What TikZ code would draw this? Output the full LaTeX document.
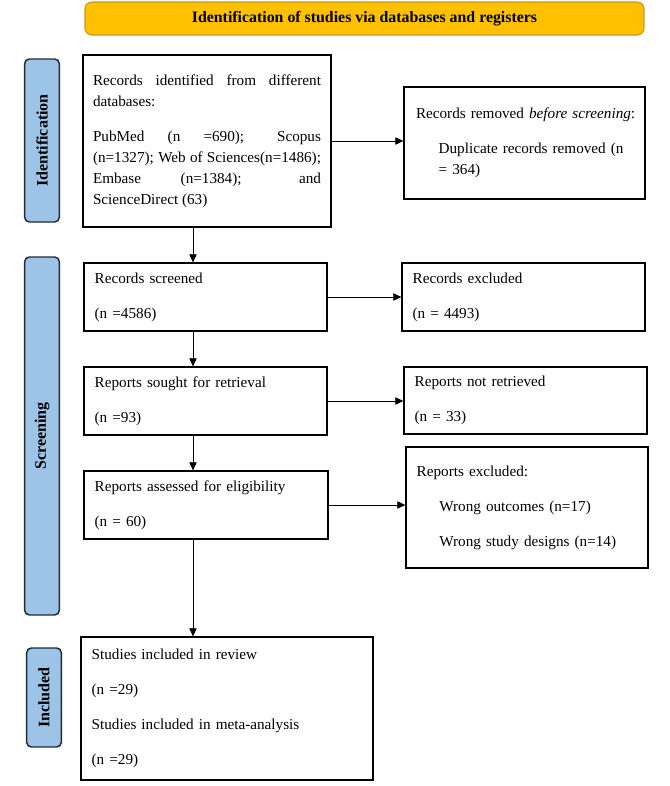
\documentclass[tikz,border=0pt]{standalone}
\usepackage{fontspec}
\setmainfont{Liberation Serif}
\usepackage{tikz}
\usetikzlibrary{arrows.meta}

\definecolor{bannerfill}{HTML}{FFC000}
\definecolor{bannerline}{HTML}{C49A1C}
\definecolor{sidefill}{HTML}{9DC3E6}
\definecolor{sideline}{HTML}{1F2A38}

\tikzset{
  box/.style={draw, line width=1pt, inner xsep=8pt, inner ysep=0pt, align=left,
    font=\fontsize{11.4}{15.75}\selectfont},
  side/.style={draw=sideline, fill=sidefill, line width=1.1pt, rounded corners=3.5pt,
    rotate=90, minimum height=26pt, inner sep=0pt, font=\fontsize{12}{12}\selectfont\bfseries},
  banner/.style={draw=bannerline, fill=bannerfill, line width=0.8pt, rounded corners=5pt,
    minimum width=419.25pt, minimum height=24.75pt, font=\fontsize{11.9}{12}\selectfont\bfseries},
  flow/.style={-{Triangle[length=6pt,width=5.5pt]}, line width=0.6pt},
}

\begin{document}
\begin{tikzpicture}[x=0.75pt,y=-0.75pt]
    \useasboundingbox (0,0) rectangle (669,786);

    \node[banner] (banner) at (364.5,18.5) {Identification of studies via databases and registers};

    % phases on the left
    \node[side, minimum width=122.25pt] (sideid) at (42,140.5) {Identification};
    \node[side, minimum width=268.5pt] (sidescr) at (42,436) {Screening};
    \node[side, minimum width=74.25pt] (sideinc) at (44,697.5) {Included};

    % main column
    \node[box, align=justify, inner xsep=7.5pt, text width=171pt, minimum height=129pt] (ident) at (207,141)
    {Records identified from different\linebreak databases:\par\vspace{10.5pt}
     PubMed (n =690); Scopus\linebreak (n=1327); Web of Sciences(n=1486);\linebreak
     Embase (n=1384); and\linebreak ScienceDirect (63)};
    \node[box, text width=166.25pt, minimum height=51pt] (screened) at (205.5,297)
    {Records screened\\[10.5pt](n =4586)};
    \node[box, text width=166.25pt, minimum height=51pt] (sought) at (205.5,401)
    {Reports sought for retrieval\\[10.5pt](n =93)};
    \node[box, text width=167pt, minimum height=51pt] (assessed) at (206,505)
    {Reports assessed for eligibility\\[10.5pt](n = 60)};
    \node[box, text width=203pt, minimum height=107.25pt] (included) at (227,708.5)
    {Studies included in review\\[10.5pt](n =29)\\[10.5pt]Studies included in meta-analysis\\[10.5pt](n =29)};

    % right column
    \node[box, inner xsep=9pt, text width=162.75pt, minimum height=84pt] (removed) at (524.5,143)
    {\mbox{Records removed \textit{before screening}:}\\[10.5pt]
     \hspace*{17pt}Duplicate records removed (n\\\hspace*{17pt}= 364)};
    \node[box, text width=166.25pt, minimum height=51pt] (excluded) at (523.5,297)
    {Records excluded\\[10.5pt](n = 4493)};
    \node[box, text width=166.25pt, minimum height=50.25pt] (notret) at (525.5,400.5)
    {Reports not retrieved\\[10.5pt](n = 33)};
    \node[box, text width=165.5pt, minimum height=90.75pt] (repexcl) at (527,507.5)
    {Reports excluded:\\[10.5pt]\hspace*{17pt}Wrong outcomes (n=17)\\[10.5pt]
     \hspace*{17pt}Wrong study designs (n=14)};

    \coordinate (spine) at (193,0);
    \foreach \a/\b in {ident/screened, screened/sought, sought/assessed, assessed/included} {
      \draw[flow] (\a.south -| spine) -- (\b.north -| spine);
    }
    \foreach \a/\b in {ident/removed, screened/excluded, sought/notret, assessed/repexcl} {
      \draw[flow] (\a.east) -- (\a.east -| \b.west);
    }
\end{tikzpicture}
\end{document}
